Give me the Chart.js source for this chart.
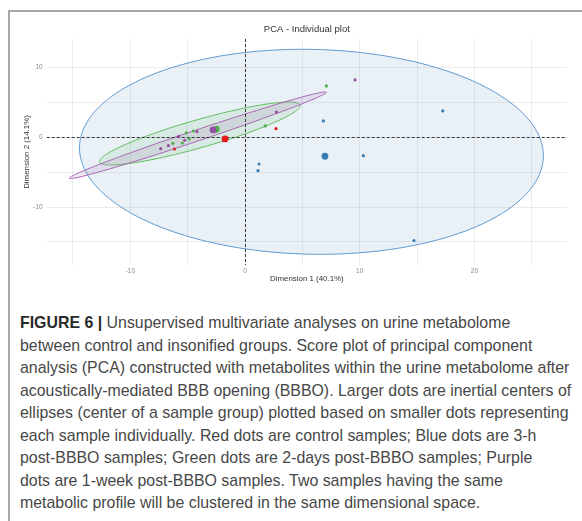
<!DOCTYPE html>
<html>
<head>
<meta charset="utf-8">
<script src="https://cdn.jsdelivr.net/npm/chart.js@4.4.1/dist/chart.umd.min.js"></script>
<style>
  html, body { margin: 0; padding: 0; background: #fff; }
  body { width: 582px; height: 521px; position: relative; overflow: hidden; }
  #frame {
    position: absolute; left: 8px; top: 10px; width: 600px; height: 540px;
    border-left: 2px solid #a8a8a8; border-top: 2px solid #a8a8a8;
  }
  #plot { position: absolute; left: 0; top: 0; }
  #caption {
    position: absolute; left: 20px; top: 312px;
    font-family: "Liberation Sans", Arial, sans-serif;
    font-size: 15.9px; line-height: 22.5px; color: #474747;
    white-space: nowrap;
  }
  #caption b { color: #2a2a2a; }
</style>
</head>
<body>
<div id="frame"></div>
<canvas id="plot" width="582" height="300"></canvas>
<div id="caption">
  <b>FIGURE 6 |</b> Unsupervised multivariate analyses on urine metabolome<br>
  between control and insonified groups. Score plot of principal component<br>
  analysis (PCA) constructed with metabolites within the urine metabolome after<br>
  acoustically-mediated BBB opening (BBBO). Larger dots are inertial centers of<br>
  ellipses (center of a sample group) plotted based on smaller dots representing<br>
  each sample individually. Red dots are control samples; Blue dots are 3-h<br>
  post-BBBO samples; Green dots are 2-days post-BBBO samples; Purple<br>
  dots are 1-week post-BBBO samples. Two samples having the same<br>
  metabolic profile will be clustered in the same dimensional space.
</div>
<script>
// sample scores (Dim 1, Dim 2)
var controlX = [2.70, -6.15];
var controlY = [1.23, -1.68];
var h3X = [6.83, 17.24, 10.32, 1.22, 1.13, 14.73];
var h3Y = [2.34, 3.77, -2.63, -3.83, -4.78, -14.8];
var d2X = [7.09, 1.77, -4.50, -5.12, -4.86, -5.47, -6.29];
var d2Y = [7.35, 1.62, 0.90, 0.62, -0.24, -0.82, -0.86];
var w1X = [9.59, 2.73, -4.19, -5.78, -5.26, -6.68, -7.35];
var w1Y = [8.21, 3.62, 0.80, 0.14, -0.43, -1.20, -1.63];

// group centres (larger dots)
var centreGroups = ['control', '3-h', '2-days', '1-week'];
var centreX = [-1.74, 6.97, -2.50, -2.79];
var centreY = [-0.24, -2.72, 1.15, 1.05];

// concentration ellipses: centre and two semi-axis vectors, in Dim units
var ellipseGroups = ['3-h', '2-days', '1-week'];
var ellipseCX = [5.79, -3.94, -4.12];
var ellipseCY = [-2.08, 0.54, 0.29];
var ellipseAX = [20.22, 8.74, 11.2];
var ellipseAY = [-0.70, 4.08, 6.16];
var ellipseBX = [-0.19, 0.33, 0.15];
var ellipseBY = [-14.67, -1.93, -0.75];

var colors = {
  'control': '#E41A1C',
  '3-h': '#377EB8',
  '2-days': '#4DAF4A',
  '1-week': '#984EA3'
};
var outlines = {
  '3-h': '#5f9ad0',
  '2-days': '#62bb5f',
  '1-week': '#a866b3'
};
var fills = {
  '3-h': 'rgba(55,126,184,0.11)',
  '2-days': 'rgba(77,175,74,0.12)',
  '1-week': 'rgba(152,78,163,0.12)'
};

function pts(xs, ys) {
  return xs.map(function (v, i) { return {x: v, y: ys[i]}; });
}

var ellipsePlugin = {
  id: 'ellipses',
  beforeDatasetsDraw: function (chart) {
    var ctx = chart.ctx, sx = chart.scales.x, sy = chart.scales.y, a = chart.chartArea;
    ctx.save();
    ellipseGroups.forEach(function (g, i) {
      ctx.beginPath();
      for (var k = 0; k <= 180; k++) {
        var t = k / 180 * Math.PI * 2;
        var vx = ellipseCX[i] + ellipseAX[i] * Math.cos(t) + ellipseBX[i] * Math.sin(t);
        var vy = ellipseCY[i] + ellipseAY[i] * Math.cos(t) + ellipseBY[i] * Math.sin(t);
        var px = sx.getPixelForValue(vx), py = sy.getPixelForValue(vy);
        if (k === 0) ctx.moveTo(px, py); else ctx.lineTo(px, py);
      }
      ctx.closePath();
      ctx.fillStyle = fills[g];
      ctx.fill();
      ctx.strokeStyle = outlines[g];
      ctx.lineWidth = 1;
      ctx.stroke();
    });
    // dashed zero lines
    ctx.setLineDash([3, 2]);
    ctx.strokeStyle = '#222';
    ctx.lineWidth = 0.9;
    var x0 = Math.round(sx.getPixelForValue(0)) + 0.5;
    var y0 = Math.round(sy.getPixelForValue(0)) + 0.5;
    ctx.beginPath();
    ctx.moveTo(a.left, y0); ctx.lineTo(a.right, y0);
    ctx.moveTo(x0, a.top); ctx.lineTo(x0, a.bottom);
    ctx.stroke();
    ctx.restore();
  }
};

var tickFont = {family: '"Liberation Sans", Arial, sans-serif', size: 6.5};
var titleFont = {family: '"Liberation Sans", Arial, sans-serif', size: 7.9};

new Chart(document.getElementById('plot'), {
  type: 'scatter',
  data: {
    datasets: [
      {data: pts([centreX[0]], [centreY[0]]), backgroundColor: colors['control'], pointRadius: 3.4},
      {data: pts([centreX[3]], [centreY[3]]), backgroundColor: colors['1-week'], pointRadius: 3.4},
      {data: pts([centreX[2]], [centreY[2]]), backgroundColor: colors['2-days'], pointRadius: 3.4},
      {data: pts([centreX[1]], [centreY[1]]), backgroundColor: colors['3-h'], pointRadius: 3.4},
      {data: pts(controlX, controlY), backgroundColor: colors['control'], pointRadius: 1.6},
      {data: pts(w1X, w1Y), backgroundColor: colors['1-week'], pointRadius: 1.6},
      {data: pts(d2X, d2Y), backgroundColor: colors['2-days'], pointRadius: 1.6},
      {data: pts(h3X, h3Y), backgroundColor: colors['3-h'], pointRadius: 1.6}
    ]
  },
  options: {
    responsive: false,
    animation: false,
    elements: {point: {borderWidth: 0, hoverRadius: 0}},
    layout: {padding: {left: 0, right: 15, top: 0, bottom: 0}},
    plugins: {
      legend: {display: false},
      tooltip: {enabled: false},
      title: {
        display: true,
        text: 'PCA - Individual plot',
        fullSize: false,
        color: '#333',
        font: {family: '"Liberation Sans", Arial, sans-serif', size: 9.5, weight: 'normal'},
        padding: {top: 23.6, bottom: 4}
      }
    },
    scales: {
      x: {
        type: 'linear',
        min: -17.29,
        max: 28.07,
        border: {display: false},
        grid: {color: 'rgba(0,0,0,0.075)', lineWidth: 1, drawTicks: false},
        ticks: {
          stepSize: 5, includeBounds: false, autoSkip: false, maxRotation: 0,
          color: '#8a8a8a', font: tickFont, padding: 2.5,
          callback: function (v) { return v % 10 === 0 ? v : ''; }
        },
        title: {display: true, text: 'Dimension 1 (40.1%)', color: '#333', font: titleFont, padding: {top: 0, bottom: 16}},
        afterFit: function (s) { s.height = 35; }
      },
      y: {
        type: 'linear',
        min: -18.3,
        max: 14.08,
        border: {display: false},
        grid: {color: 'rgba(0,0,0,0.075)', lineWidth: 1, drawTicks: false},
        ticks: {
          stepSize: 5, includeBounds: false, autoSkip: false,
          color: '#8a8a8a', font: tickFont, padding: 4,
          callback: function (v) { return v % 10 === 0 ? v : ''; }
        },
        title: {display: true, text: 'Dimension 2 (14.1%)', color: '#333', font: titleFont, padding: {top: 22, bottom: 0}},
        afterFit: function (s) { s.width = 46.7; }
      }
    }
  },
  plugins: [ellipsePlugin]
});
</script>
</body>
</html>
